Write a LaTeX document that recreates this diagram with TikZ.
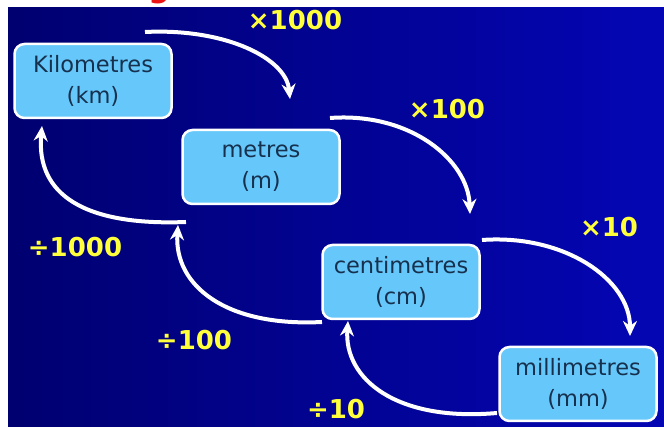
\documentclass[tikz,border=0pt]{standalone}
\usepackage{fontspec}
\setmainfont{DejaVu Sans}
\usetikzlibrary{arrows.meta}
\definecolor{bgL}{RGB}{0,0,112}
\definecolor{bgR}{RGB}{4,6,180}
\definecolor{boxfill}{RGB}{102,200,250}
\definecolor{boxtext}{RGB}{22,48,78}
\definecolor{lab}{RGB}{255,255,60}
\definecolor{titlered}{RGB}{235,20,20}
\tikzset{
  unitbox/.style={draw=white, line width=2.5pt, fill=boxfill, rounded corners=10pt,
    minimum width=157pt, minimum height=74pt, align=center, text=boxtext,
    font=\fontsize{22.5}{31}\selectfont},
  factor/.style={text=lab, font=\fontsize{26}{28}\selectfont\bfseries, inner sep=0pt},
  arr/.style={draw=white, line width=4pt, -{Stealth[length=15pt,width=14pt]}}
}
\begin{document}
\begin{tikzpicture}[x=1pt,y=-1pt]
\useasboundingbox (0,0) rectangle (664,427);
\fill[white] (0,0) rectangle (664,427);
\shade[left color=bgL, right color=bgR] (8,8) rectangle (664,427);
\begin{scope}
  \clip (0,0) rectangle (664,8);
  \node[text=titlered, font=\fontsize{30}{30}\selectfont\bfseries, anchor=base, inner sep=0pt] (title) at (159,-2) {g};
\end{scope}
% boxes
\node[unitbox] (km) at (93,81) {Kilometres\\(km)};
\node[unitbox] (m)  at (261,167) {metres\\(m)};
\node[unitbox] (cm) at (401,282) {centimetres\\(cm)};
\node[unitbox] (mm) at (578,384) {millimetres\\(mm)};
% free ends
\coordinate (a1s) at (145,32);  \coordinate (a1e) at (290,99);
\coordinate (a2s) at (330,118); \coordinate (a2e) at (470,214);
\coordinate (a3s) at (482,240); \coordinate (a3e) at (630,336);
\coordinate (b1s) at (186,222); \coordinate (b1e) at (42,126);
\coordinate (b2s) at (322,322); \coordinate (b2e) at (178,225);
\coordinate (b3s) at (497,413); \coordinate (b3e) at (348,321);
% multiply arrows
\draw[arr] (a1s) .. controls (225,28) and (286,58) .. (a1e);
\draw[arr] (a2s) .. controls (410,112) and (468,160) .. (a2e);
\draw[arr] (a3s) .. controls (565,234) and (630,280) .. (a3e);
% divide arrows
\draw[arr] (b1s) .. controls (85,226) and (36,195) .. (b1e);
\draw[arr] (b2s) .. controls (225,327) and (174,285) .. (b2e);
\draw[arr] (b3s) .. controls (395,422) and (344,378) .. (b3e);
% labels
\node[factor] (l1) at (295,20) {×1000};
\node[factor] (l2) at (447,109) {×100};
\node[factor] (l3) at (609,227) {×10};
\node[factor] (l4) at (75,247) {÷1000};
\node[factor] (l5) at (194,340) {÷100};
\node[factor] (l6) at (336,409) {÷10};
\end{tikzpicture}
\end{document}
